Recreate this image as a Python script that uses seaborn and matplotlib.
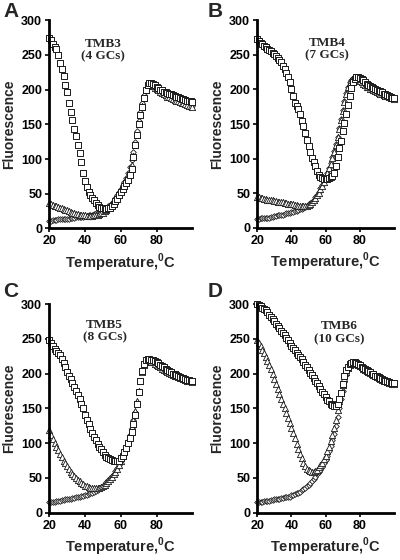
import matplotlib
matplotlib.use("Agg")
import matplotlib.pyplot as plt
import seaborn as sns

# melting curves, fluorescence vs temperature (one reading per degree)
TEMPS = list(range(20, 101))

A_SQUARES = [274, 271, 266, 262, 258, 250, 238, 229, 220, 207,
             196, 181, 168, 156, 143, 133, 120, 108, 96, 80,
             69, 60, 53, 48, 44, 41, 37, 34, 31, 30,
             29, 29, 28, 29, 30, 32, 35, 39, 43, 48,
             53, 57, 61, 66, 70, 77, 86, 103, 120, 135,
             150, 163, 175, 188, 200, 207, 209, 210, 208, 206,
             204, 202, 200, 199, 197, 196, 195, 194, 193, 192,
             191, 190, 189, 188, 187, 186, 185, 184, 184, 183,
             182]
A_TRIANGLES = [36, 35, 34, 33, 32, 31, 30, 29, 28, 27,
               26, 25, 24, 23, 22, 21, 21, 20, 20, 19,
               19, 18, 18, 18, 18, 19, 19, 20, 21, 22,
               23, 25, 27, 29, 31, 34, 37, 41, 45, 50,
               55, 59, 64, 69, 75, 82, 92, 105, 120, 135,
               150, 163, 176, 188, 199, 205, 207, 207, 205, 203,
               201, 199, 197, 195, 193, 192, 190, 189, 188, 186,
               185, 184, 183, 182, 181, 180, 179, 178, 177, 176,
               175]
A_DIAMONDS = [11, 11, 12, 12, 12, 13, 13, 13, 13, 14,
              14, 14, 15, 15, 15, 16, 16, 16, 17, 17,
              18, 18, 19, 19, 20, 21, 22, 23, 24, 25,
              26, 28, 30, 32, 34, 37, 40, 44, 48, 52,
              57, 62, 67, 73, 80, 88, 98, 110, 124, 140,
              155, 168, 180, 192, 201, 206, 208, 208, 206, 204,
              202, 200, 198, 196, 194, 193, 191, 190, 189, 188,
              187, 186, 185, 184, 183, 182, 181, 180, 179, 178,
              177]

B_SQUARES = [273, 270, 267, 265, 263, 261, 259, 257, 255, 253,
             251, 248, 246, 243, 240, 234, 229, 223, 218, 211,
             200, 191, 181, 176, 171, 164, 155, 147, 137, 127,
             118, 110, 101, 95, 89, 82, 77, 74, 72, 71,
             71, 71, 72, 73, 75, 80, 90, 103, 116, 126,
             140, 152, 165, 177, 190, 202, 210, 215, 218, 218,
             217, 215, 213, 210, 208, 206, 205, 203, 202, 201,
             199, 198, 197, 196, 194, 193, 192, 191, 189, 188,
             187]
B_TRIANGLES = [44, 44, 43, 43, 42, 42, 41, 41, 40, 40,
               39, 39, 38, 38, 37, 37, 36, 36, 35, 35,
               34, 34, 33, 33, 32, 32, 32, 31, 31, 32,
               33, 35, 37, 40, 43, 47, 51, 56, 61, 67,
               73, 79, 86, 93, 101, 110, 120, 131, 143, 156,
               169, 182, 194, 203, 209, 213, 215, 216, 215, 214,
               212, 210, 208, 206, 204, 203, 201, 200, 199, 198,
               196, 195, 194, 193, 192, 191, 190, 189, 188, 187,
               186]
B_DIAMONDS = [13, 13, 14, 14, 14, 15, 15, 15, 16, 16,
              17, 17, 18, 18, 19, 19, 20, 21, 21, 22,
              23, 23, 24, 25, 26, 27, 28, 29, 30, 32,
              34, 36, 38, 41, 44, 48, 52, 57, 62, 68,
              74, 80, 87, 94, 102, 111, 121, 132, 144, 157,
              170, 183, 195, 204, 210, 214, 216, 217, 216, 215,
              213, 211, 209, 207, 205, 204, 202, 201, 200, 199,
              197, 196, 195, 194, 193, 192, 191, 190, 189, 188,
              187]

C_SQUARES = [248, 244, 239, 236, 233, 230, 227, 221, 215, 210,
             203, 197, 192, 187, 181, 175, 169, 163, 157, 150,
             141, 134, 128, 121, 115, 109, 104, 99, 95, 91,
             87, 83, 80, 78, 77, 76, 75, 74, 74, 75,
             78, 82, 87, 93, 100, 107, 116, 127, 141, 157,
             173, 189, 204, 214, 219, 221, 221, 220, 219, 218,
             216, 215, 213, 211, 209, 207, 205, 204, 202, 200,
             199, 198, 196, 195, 194, 193, 192, 191, 191, 190,
             189]
C_TRIANGLES = [119, 112, 106, 100, 95, 90, 85, 80, 75, 71,
               67, 63, 59, 56, 53, 50, 47, 45, 43, 41,
               39, 38, 37, 36, 35, 35, 35, 35, 36, 37,
               38, 40, 42, 45, 48, 51, 55, 59, 63, 68,
               74, 81, 88, 96, 104, 113, 123, 134, 146, 160,
               175, 190, 203, 212, 216, 218, 218, 217, 216, 214,
               213, 211, 209, 207, 205, 204, 202, 201, 200, 198,
               197, 196, 195, 194, 193, 192, 191, 190, 189, 189,
               188]
C_DIAMONDS = [15, 15, 16, 16, 17, 17, 17, 18, 18, 19,
              19, 20, 20, 21, 21, 22, 22, 23, 24, 24,
              25, 26, 27, 28, 29, 30, 31, 33, 35, 37,
              39, 41, 44, 47, 50, 53, 56, 60, 64, 69,
              74, 80, 87, 95, 103, 112, 122, 133, 145, 159,
              174, 189, 202, 211, 216, 218, 218, 217, 215, 214,
              212, 210, 209, 207, 205, 204, 202, 201, 199, 198,
              197, 196, 195, 194, 193, 192, 191, 190, 189, 188,
              188]

D_SQUARES = [300, 299, 297, 295, 293, 291, 288, 285, 282, 279,
             276, 272, 268, 265, 262, 259, 255, 251, 248, 244,
             240, 237, 234, 230, 227, 224, 221, 217, 213, 209,
             205, 201, 198, 194, 190, 186, 182, 178, 174, 170,
             166, 162, 160, 157, 155, 154, 154, 156, 163, 172,
             185, 197, 205, 210, 214, 215, 216, 216, 215, 214,
             212, 210, 208, 207, 205, 204, 202, 200, 199, 197,
             196, 195, 193, 192, 191, 190, 189, 188, 187, 186,
             186]
D_TRIANGLES = [248, 244, 239, 234, 229, 224, 218, 212, 206, 199,
               192, 185, 178, 171, 164, 157, 150, 143, 136, 129,
               122, 114, 107, 99, 92, 85, 78, 72, 67, 63,
               61, 60, 59, 59, 60, 62, 65, 68, 72, 77,
               82, 88, 95, 103, 112, 122, 134, 147, 160, 172,
               184, 194, 202, 208, 212, 214, 215, 215, 214, 213,
               211, 209, 207, 205, 204, 202, 201, 199, 198, 196,
               195, 194, 192, 191, 190, 189, 188, 187, 186, 185,
               185]
D_DIAMONDS = [15, 15, 16, 16, 17, 17, 17, 17, 18, 18,
              19, 19, 20, 20, 21, 21, 22, 22, 23, 23,
              25, 26, 27, 28, 29, 30, 32, 34, 36, 38,
              40, 43, 46, 49, 52, 55, 58, 62, 66, 71,
              76, 82, 89, 96, 104, 113, 124, 137, 150, 163,
              175, 188, 198, 206, 211, 214, 215, 215, 214, 213,
              211, 209, 207, 205, 204, 202, 201, 199, 198, 196,
              195, 194, 192, 191, 190, 189, 188, 187, 186, 185,
              185]

PANEL_LETTERS = ["A", "B", "C", "D"]
PANEL_NOTES = ["TMB3\n(4 GCs)", "TMB4\n(7 GCs)", "TMB5\n(8 GCs)", "TMB6\n(10 GCs)"]
NOTE_POS = [(50, 257), (61, 258), (51, 261), (68, 259)]

X_TICKS = [20, 40, 60, 80]
Y_TICKS = [0, 50, 100, 150, 200, 250, 300]

panel_data = [
    (A_SQUARES, A_TRIANGLES, A_DIAMONDS),
    (B_SQUARES, B_TRIANGLES, B_DIAMONDS),
    (C_SQUARES, C_TRIANGLES, C_DIAMONDS),
    (D_SQUARES, D_TRIANGLES, D_DIAMONDS),
]

sns.set_theme(style="ticks")
plt.rcParams["font.family"] = ["Liberation Sans", "DejaVu Sans"]
plt.rcParams["font.weight"] = "bold"
plt.rcParams["mathtext.fontset"] = "custom"
plt.rcParams["mathtext.rm"] = "Liberation Sans:bold"
plt.rcParams["mathtext.bf"] = "Liberation Sans:bold"

fig = plt.figure(figsize=(4, 5.6), dpi=100)

boxes = [
    [0.123, 0.592, 0.358, 0.372],
    [0.643, 0.593, 0.342, 0.371],
    [0.123, 0.0845, 0.358, 0.3725],
    [0.643, 0.0845, 0.342, 0.3725],
]
letter_pos = [(0.008, 0.997), (0.518, 0.997), (0.008, 0.497), (0.518, 0.497)]

edge = "#1a1a1a"

for i, (sq, tri, dia) in enumerate(panel_data):
    ax = fig.add_axes(boxes[i])

    sns.scatterplot(x=TEMPS, y=dia, marker="D", s=8, color="white",
                    edgecolor=edge, linewidth=0.6, clip_on=False, ax=ax)
    sns.scatterplot(x=TEMPS, y=tri, marker="^", s=20, color="white",
                    edgecolor=edge, linewidth=0.6, clip_on=False, ax=ax)
    sns.scatterplot(x=TEMPS, y=sq, marker="s", s=22, color="white",
                    edgecolor=edge, linewidth=0.7, clip_on=False, ax=ax)

    ax.set_xlim(20, 100)
    ax.set_ylim(0, 300)
    ax.set_xticks(X_TICKS)
    ax.set_yticks(Y_TICKS)

    for side in ["top", "right"]:
        ax.spines[side].set_visible(False)
    for side in ["left", "bottom"]:
        ax.spines[side].set_linewidth(2.0)
        ax.spines[side].set_color("black")

    ax.tick_params(axis="both", direction="out", length=3, width=1.2,
                   labelsize=9, pad=2, colors="black")
    for lab in ax.get_xticklabels() + ax.get_yticklabels():
        lab.set_fontweight("bold")

    ax.set_ylabel("Fluorescence", fontsize=10, fontweight="bold", labelpad=4)
    ax.set_xlabel(r"Temperature,$^{0}$C", fontsize=10.5, fontweight="bold", labelpad=3)

    nx, ny = NOTE_POS[i]
    ax.text(nx, ny, PANEL_NOTES[i], ha="center", va="center",
            family=["Liberation Serif", "DejaVu Serif"], fontweight="bold",
            fontsize=9.5, linespacing=1.1)

    lx, ly = letter_pos[i]
    fig.text(lx, ly, PANEL_LETTERS[i], ha="left", va="top",
             fontsize=15, fontweight="bold")

plt.savefig("out.png", dpi=100)
plt.close()
